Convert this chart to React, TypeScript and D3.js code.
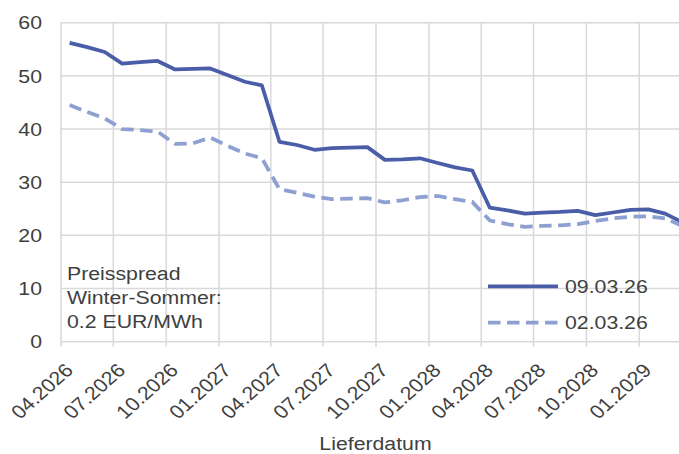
import React from "react";
import * as d3 from "d3";

// Monthly delivery periods, April 2026 through March 2029
const months: string[] = [
  "2026-04", "2026-05", "2026-06", "2026-07", "2026-08", "2026-09",
  "2026-10", "2026-11", "2026-12", "2027-01", "2027-02", "2027-03",
  "2027-04", "2027-05", "2027-06", "2027-07", "2027-08", "2027-09",
  "2027-10", "2027-11", "2027-12", "2028-01", "2028-02", "2028-03",
  "2028-04", "2028-05", "2028-06", "2028-07", "2028-08", "2028-09",
  "2028-10", "2028-11", "2028-12", "2029-01", "2029-02", "2029-03",
];

// Settlement prices (EUR/MWh) on 09.03.26
const seriesLatest: number[] = [
  56.2, 55.4, 54.5, 52.3, 52.6, 52.8,
  51.2, 51.3, 51.4, 50.1, 48.9, 48.2,
  37.6, 37.0, 36.1, 36.4, 36.5, 36.6,
  34.2, 34.3, 34.5, 33.6, 32.8, 32.2,
  25.2, 24.7, 24.1, 24.3, 24.4, 24.6,
  23.8, 24.3, 24.8, 24.9, 24.1, 22.5,
];

// Settlement prices (EUR/MWh) on 02.03.26
const seriesPrevious: number[] = [
  44.5, 43.2, 42.0, 40.0, 39.8, 39.5,
  37.2, 37.3, 38.4, 36.8, 35.4, 34.5,
  28.7, 28.0, 27.3, 26.8, 26.9, 27.0,
  26.2, 26.6, 27.2, 27.4, 26.8, 26.3,
  22.8, 22.1, 21.6, 21.8, 21.9, 22.1,
  22.7, 23.2, 23.5, 23.6, 23.2, 21.8,
];

const seriesNames: string[] = ["09.03.26", "02.03.26"];
const yTicks: number[] = [0, 10, 20, 30, 40, 50, 60];
const xTickMonths: string[] = [
  "2026-04", "2026-07", "2026-10", "2027-01", "2027-04", "2027-07",
  "2027-10", "2028-01", "2028-04", "2028-07", "2028-10", "2029-01",
];
const noteLines: string[] = ["Preisspread", "Winter-Sommer:", "0.2 EUR/MWh"];
const axisTitle = "Lieferdatum";

const W = 679;
const H = 454;
const FONT = "'Liberation Sans', Arial, sans-serif";
const TEXT = "#404040";
const GRID = "#d9d9d9";
const C_LATEST = "#4a5ea8";
const C_PREV = "#8e9fd2";
const FS = 19;
const SX = 1.12; // horizontal text stretch
const DASH = "12.5,6.5";
const LW = 3.75;

const parseMonth = d3.timeParse("%Y-%m");
const fmtTick = d3.timeFormat("%m.%Y");

function Label(props: {
  x: number;
  y: number;
  anchor?: "start" | "middle" | "end";
  rotate?: number;
  dy?: string;
  children: React.ReactNode;
}) {
  const { x, y, anchor = "start", rotate = 0, dy, children } = props;
  return (
    <text
      transform={`translate(${x},${y}) scale(${SX},1) rotate(${rotate})`}
      textAnchor={anchor}
      dy={dy}
      fontSize={FS}
      fill={TEXT}
    >
      {children}
    </text>
  );
}

export default function App() {
  const x = d3
    .scaleTime()
    .domain([new Date(2026, 3, 1), new Date(2029, 3, 1)])
    .range([61, 691]);
  const y = d3.scaleLinear().domain([0, 60]).range([341.7, 22.7]);

  // points sit in the middle of each month slot
  const mid = (m: string) => {
    const d0 = parseMonth(m) as Date;
    const d1 = d3.timeMonth.offset(d0, 1);
    return (x(d0) + x(d1)) / 2;
  };

  const line = d3
    .line<[number, number]>()
    .x((d) => d[0])
    .y((d) => d[1]);

  const pathFor = (vals: number[]) =>
    line(months.map((m, i) => [mid(m), y(vals[i])] as [number, number])) || "";

  const xTicks = xTickMonths.map((m) => parseMonth(m) as Date);

  return (
    <svg
      width={W}
      height={H}
      viewBox={`0 0 ${W} ${H}`}
      style={{ position: "absolute", left: 0, top: 0, background: "#fff" }}
      fontFamily={FONT}
    >
      {/* horizontal gridlines */}
      {yTicks.map((t) => (
        <line key={"h" + t} x1={61} x2={W} y1={y(t)} y2={y(t)} stroke={GRID} strokeWidth={1.5} />
      ))}
      {/* vertical gridlines, extended below the axis as tick marks */}
      {xTicks.map((d, i) => (
        <line key={"v" + i} x1={x(d)} x2={x(d)} y1={y(60)} y2={y(0) + 5} stroke={GRID} strokeWidth={1.5} />
      ))}
      {/* y tick labels */}
      {yTicks.map((t) => (
        <Label key={"yl" + t} x={42} y={y(t)} anchor="end" dy="0.35em">
          {t}
        </Label>
      ))}
      {/* x tick labels */}
      {xTicks.map((d, i) => (
        <Label key={"xl" + i} x={x(d) + 8} y={y(0) + 25} anchor="end" rotate={-45} dy="0.35em">
          {fmtTick(d)}
        </Label>
      ))}
      {/* series */}
      <path d={pathFor(seriesPrevious)} fill="none" stroke={C_PREV} strokeWidth={LW} strokeDasharray={DASH} strokeLinejoin="round" />
      <path d={pathFor(seriesLatest)} fill="none" stroke={C_LATEST} strokeWidth={LW} strokeLinejoin="round" />
      {/* note */}
      {noteLines.map((s, i) => (
        <Label key={"n" + i} x={67} y={280 + i * 24}>
          {s}
        </Label>
      ))}
      {/* legend */}
      <line x1={488} x2={558} y1={286.3} y2={286.3} stroke={C_LATEST} strokeWidth={LW} />
      <Label x={565} y={292.7}>{seriesNames[0]}</Label>
      <line x1={488} x2={558} y1={322.7} y2={322.7} stroke={C_PREV} strokeWidth={LW} strokeDasharray={DASH} />
      <Label x={565} y={329.3}>{seriesNames[1]}</Label>
      {/* axis title */}
      <Label x={375.5} y={450} anchor="middle">{axisTitle}</Label>
    </svg>
  );
}
